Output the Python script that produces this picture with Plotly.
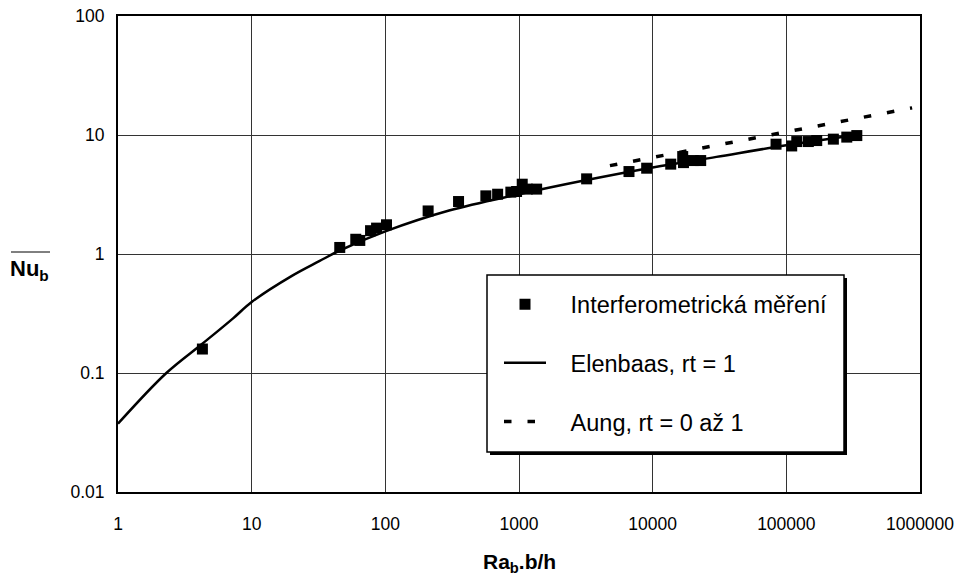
import plotly.graph_objects as go

# --- data ---
meas_x = [4.28, 45.6, 60.1, 64.4, 77.5, 86, 102, 209, 353, 565, 692, 869, 959, 1057, 1152, 1355,
          3206, 6650, 9020, 13650, 16780, 17000, 20130, 22870,
          83750, 109700, 119700, 146100, 168800, 224800, 283300, 336700]
meas_y = [0.159, 1.135, 1.33, 1.30, 1.57, 1.65, 1.76, 2.30, 2.76, 3.08, 3.18, 3.31, 3.35, 3.86, 3.51, 3.51,
          4.28, 4.93, 5.26, 5.69, 6.59, 5.86, 6.10, 6.10,
          8.37, 8.09, 8.81, 8.81, 8.98, 9.23, 9.60, 9.89]

elen_x = [1, 2.3, 4.3, 7.26, 10, 20, 32, 45.6, 100, 300, 1000, 3000, 10000, 30000, 100000, 340000]
elen_y = [0.0375, 0.1, 0.177, 0.288, 0.395, 0.655, 0.87, 1.07, 1.55, 2.32, 3.18, 4.12, 5.33, 6.55, 8.2, 10.0]

aung_x = [4790, 53500, 873000]
aung_y = [5.53, 9.23, 16.9]

x_ticks = [1, 10, 100, 1000, 10000, 100000, 1000000]
x_ticktext = ["1", "10", "100", "1000", "10000", "100000", "1000000"]
y_ticks = [0.01, 0.1, 1, 10, 100]
y_ticktext = ["0.01", "0.1", "1", "10", "100"]

names = ["Interferometrická měření", "Elenbaas, rt = 1", "Aung, rt = 0 až 1"]

FONT = "Arial, Liberation Sans, sans-serif"
PAD = "\u00a0\u00a0\u00a0"

# plot area in pixels: x 118..920, y 16..492
def px(xp):
    return (xp - 118) / 802

def py(yp):
    return (492 - yp) / 476

fig = go.Figure()
fig.add_trace(go.Scatter(x=elen_x, y=elen_y, mode="lines", name=PAD + names[1],
                         line=dict(color="black", width=2.5, shape="spline", smoothing=1.0),
                         legendrank=2, legendgroup="b"))
fig.add_trace(go.Scatter(x=aung_x, y=aung_y, mode="lines", name=PAD + names[2],
                         line=dict(color="black", width=3.5, dash="7.5px,16px"),
                         legendrank=3, legendgroup="c"))
fig.add_trace(go.Scatter(x=meas_x, y=meas_y, mode="markers", name=PAD + names[0],
                         marker=dict(symbol="square", size=11, color="black"),
                         legendrank=1, legendgroup="a"))

fig.update_layout(
    width=958, height=575,
    margin=dict(l=118, r=38, t=16, b=83, autoexpand=False),
    paper_bgcolor="white", plot_bgcolor="white",
    font=dict(family=FONT, color="black", size=17.5),
    showlegend=True,
    legend=dict(x=px(499), y=py(282.5), xanchor="left", yanchor="top",
                bgcolor="rgba(0,0,0,0)", borderwidth=0,
                font=dict(size=23.5, family=FONT, color="black"),
                itemwidth=42, tracegroupgap=25, traceorder="grouped"),
    xaxis=dict(type="log", range=[0, 6], tickvals=x_ticks, ticktext=x_ticktext,
               showgrid=True, gridcolor="#333333", gridwidth=1,
               showline=True, linecolor="black", linewidth=2, mirror=True,
               ticks="", ticklabelstandoff=15, zeroline=False, automargin=False),
    yaxis=dict(type="log", range=[-2, 2], tickvals=y_ticks, ticktext=y_ticktext,
               showgrid=True, gridcolor="#333333", gridwidth=1,
               showline=True, linecolor="black", linewidth=2, mirror=True,
               ticks="", ticklabelstandoff=8, zeroline=False, automargin=False),
    annotations=[
        dict(text="<b>Ra<sub>b</sub>.b/h</b>", xref="paper", yref="paper",
             x=0.5, y=py(563), xanchor="center", yanchor="middle",
             showarrow=False, font=dict(size=21, family=FONT, color="black")),
        dict(text="<b>Nu<sub>b</sub></b>", xref="paper", yref="paper",
             x=px(8), y=py(270), xanchor="left", yanchor="middle",
             showarrow=False, font=dict(size=22, family=FONT, color="black")),
    ],
    shapes=[
        # overline of Nu_b
        dict(type="line", xref="paper", yref="paper",
             x0=px(11), x1=px(50), y0=py(252), y1=py(252),
             line=dict(color="black", width=1)),
        # legend box shadow and frame
        dict(type="rect", xref="paper", yref="paper", layer="above",
             x0=px(490), x1=px(847), y0=py(455), y1=py(278),
             fillcolor="black", line=dict(width=0)),
        dict(type="rect", xref="paper", yref="paper", layer="above",
             x0=px(487), x1=px(844), y0=py(452), y1=py(275),
             fillcolor="white", line=dict(color="black", width=1.5)),
    ],
)

fig.write_html("out.html",
               config={"displayModeBar": False},
               post_script="document.body.style.margin='0';document.body.style.padding='0';")
